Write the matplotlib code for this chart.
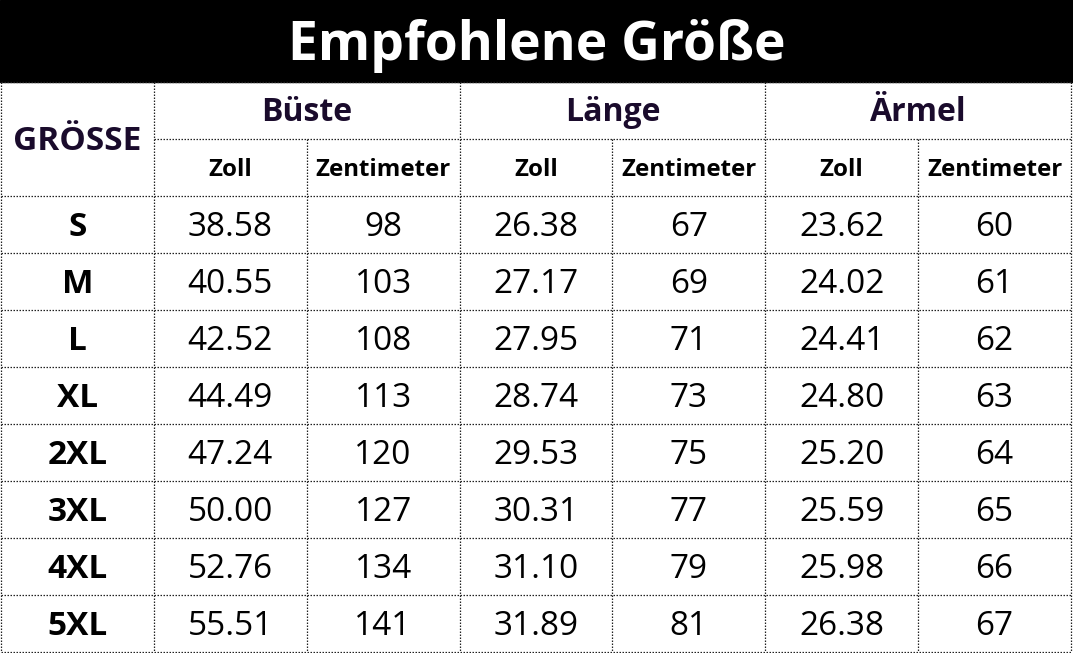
import matplotlib.pyplot as plt

title = "Empfohlene Größe"
size_header = "GRÖSSE"
groups = ["Büste", "Länge", "Ärmel"]
units = ["Zoll", "Zentimeter"]

sizes = ["S", "M", "L", "XL", "2XL", "3XL", "4XL", "5XL"]
bust_in = ["38.58", "40.55", "42.52", "44.49", "47.24", "50.00", "52.76", "55.51"]
bust_cm = ["98", "103", "108", "113", "120", "127", "134", "141"]
length_in = ["26.38", "27.17", "27.95", "28.74", "29.53", "30.31", "31.10", "31.89"]
length_cm = ["67", "69", "71", "73", "75", "77", "79", "81"]
sleeve_in = ["23.62", "24.02", "24.41", "24.80", "25.20", "25.59", "25.98", "26.38"]
sleeve_cm = ["60", "61", "62", "63", "64", "65", "66", "67"]

columns = [bust_in, bust_cm, length_in, length_cm, sleeve_in, sleeve_cm]

plt.rcParams['font.family'] = ['Open Sans', 'DejaVu Sans']

W, H = 1073, 653
fig = plt.figure(figsize=(W / 100, H / 100), dpi=100)
ax = fig.add_axes([0, 0, 1, 1])
ax.set_xlim(0, W)
ax.set_ylim(H, 0)
ax.axis('off')

top = 81.5
rh = 57
left, right = 1, 1071
cw = (right - left) / 7
xs = [left + cw * i for i in range(8)]
ys = [top + rh * i for i in range(11)]

line_kw = dict(color='#222222', lw=0.9, ls=(0, (1.2, 1.2)))
hdr_color = '#1a0b2c'


def put(x, cy, s, size, **kw):
    # place text by baseline so the capitals sit centred in the cell
    ax.text(x, cy + 0.357 * size * 100 / 72, s, ha='center', va='baseline',
            fontsize=size, **kw)


# title band
ax.add_patch(plt.Rectangle((0, 0), W, top, color='black', zorder=0))
put(W / 2, 41, title, 38.5, color='white', fontweight='bold')

# horizontal lines
ax.plot([left, right], [ys[0], ys[0]], **line_kw)
ax.plot([xs[1], right], [ys[1], ys[1]], **line_kw)
for y in ys[2:]:
    ax.plot([left, right], [y, y], **line_kw)

# vertical lines
for i, x in enumerate(xs):
    if i in (0, 1, 3, 5, 7):
        ax.plot([x, x], [ys[0], ys[-1]], **line_kw)
    else:
        ax.plot([x, x], [ys[1], ys[-1]], **line_kw)

# header
put((xs[0] + xs[1]) / 2, ys[1], size_header, 24, fontweight='bold', color=hdr_color)
for g, name in enumerate(groups):
    cx = xs[1 + 2 * g] + cw
    put(cx, (ys[0] + ys[1]) / 2, name, 23, fontweight='bold', color=hdr_color)
    for u, unit in enumerate(units):
        ux = xs[1 + 2 * g + u] + cw / 2
        put(ux, (ys[1] + ys[2]) / 2, unit, 17.3, fontweight='bold', color='black')

# body
for r, s in enumerate(sizes):
    cy = (ys[2 + r] + ys[3 + r]) / 2
    put((xs[0] + xs[1]) / 2, cy, s, 24, fontweight='bold', color='black')
    for c, col in enumerate(columns):
        put((xs[1 + c] + xs[2 + c]) / 2, cy, col[r], 24, color='black')

fig.savefig('out.png', dpi=100, facecolor='white')
